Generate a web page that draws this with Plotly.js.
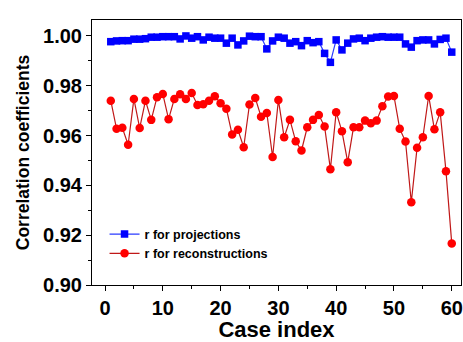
<!DOCTYPE html>
<html>
<head>
<meta charset="utf-8">
<script src="https://cdn.plot.ly/plotly-3.0.1.min.js"></script>
<style>html,body{margin:0;padding:0;background:#fff;}#chart{width:463px;height:342px;}</style>
</head>
<body>
<div id="chart"></div>
<script>
const caseIndex = Array.from({length: 60}, (_, i) => i + 1);

const rProjections = [
  0.9977, 0.9980, 0.9981, 0.9981, 0.9987, 0.9987, 0.9989, 0.9995, 0.9995, 0.9997,
  0.9997, 0.9997, 0.9988, 1.0000, 0.9991, 0.9997, 0.9984, 0.9995, 0.9991, 0.9991,
  0.9971, 0.9991, 0.9964, 0.9980, 0.9999, 0.9997, 0.9997, 0.9948, 0.9980, 0.9995,
  0.9991, 0.9971, 0.9977, 0.9961, 0.9981, 0.9973, 0.9977, 0.9930, 0.9894, 0.9984,
  0.9944, 0.9971, 0.9988, 0.9991, 0.9981, 0.9991, 0.9995, 0.9997, 0.9995, 0.9995,
  0.9995, 0.9968, 0.9955, 0.9981, 0.9984, 0.9984, 0.9968, 0.9986, 0.9991, 0.9935
];

const rReconstructions = [
  0.9740, 0.9627, 0.9631, 0.9563, 0.9747, 0.9630, 0.9740, 0.9663, 0.9754, 0.9767,
  0.9666, 0.9747, 0.9766, 0.9747, 0.9771, 0.9723, 0.9726, 0.9740, 0.9758, 0.9730,
  0.9708, 0.9604, 0.9623, 0.9553, 0.9725, 0.9751, 0.9676, 0.9691, 0.9514, 0.9743,
  0.9593, 0.9663, 0.9577, 0.9540, 0.9633, 0.9663, 0.9683, 0.9636, 0.9465, 0.9694,
  0.9617, 0.9493, 0.9633, 0.9633, 0.9660, 0.9649, 0.9660, 0.9718, 0.9757, 0.9759,
  0.9627, 0.9576, 0.9332, 0.9551, 0.9593, 0.9759, 0.9625, 0.9694, 0.9457, 0.9167
];

const yTicks = [0.90, 0.92, 0.94, 0.96, 0.98, 1.00];
const xTicks = [0, 10, 20, 30, 40, 50, 60];

const FONT = 'Liberation Sans, Arial, Helvetica, sans-serif';

const traces = [
  {
    x: caseIndex, y: rProjections, name: 'r for projections',
    type: 'scatter', mode: 'lines+markers',
    line: {color: '#2a3bff', width: 1.2},
    marker: {symbol: 'square', size: 7.5, color: '#0000ff'}
  },
  {
    x: caseIndex, y: rReconstructions, name: 'r for reconstructions',
    type: 'scatter', mode: 'lines+markers',
    line: {color: '#c01818', width: 1.2},
    marker: {symbol: 'circle', size: 8.5, color: '#ff0000'}
  }
];

const axisCommon = {
  showline: true, linecolor: '#000', linewidth: 1, mirror: true,
  ticks: 'outside', ticklen: 5, tickwidth: 1, tickcolor: '#000',
  showgrid: false, zeroline: false,
  tickfont: {family: FONT, size: 20, color: '#000', weight: 'bold'}
};

const layout = {
  width: 463, height: 342,
  margin: {l: 92, r: 2, t: 20, b: 57},
  paper_bgcolor: '#fff', plot_bgcolor: '#fff',
  showlegend: true,
  legend: {
    x: 0.034, y: 0.155, xanchor: 'left', yanchor: 'middle',
    bgcolor: 'rgba(0,0,0,0)', borderwidth: 0,
    font: {family: FONT, size: 12.5, color: '#000', weight: 'bold'},
    tracegroupgap: 0, itemwidth: 30
  },
  xaxis: Object.assign({}, axisCommon, {
    range: [-2.25, 61.6],
    tickvals: xTicks, ticktext: xTicks.map(String),
    minor: {dtick: 5, tick0: 0, ticks: 'outside', ticklen: 3, tickcolor: '#000'},
    title: {text: 'Case index', font: {family: FONT, size: 22, color: '#000', weight: 'bold'}, standoff: 8}
  }),
  yaxis: Object.assign({}, axisCommon, {
    range: [0.9, 1.0064],
    tickvals: yTicks, ticktext: yTicks.map(v => v.toFixed(2)),
    minor: {dtick: 0.01, tick0: 0.9, ticks: 'outside', ticklen: 3, tickcolor: '#000'},
    title: {text: 'Correlation coefficients', font: {family: FONT, size: 17.5, color: '#000', weight: 'bold'}, standoff: 8}
  })
};

Plotly.newPlot('chart', traces, layout, {displayModeBar: false, staticPlot: true});
</script>
</body>
</html>
